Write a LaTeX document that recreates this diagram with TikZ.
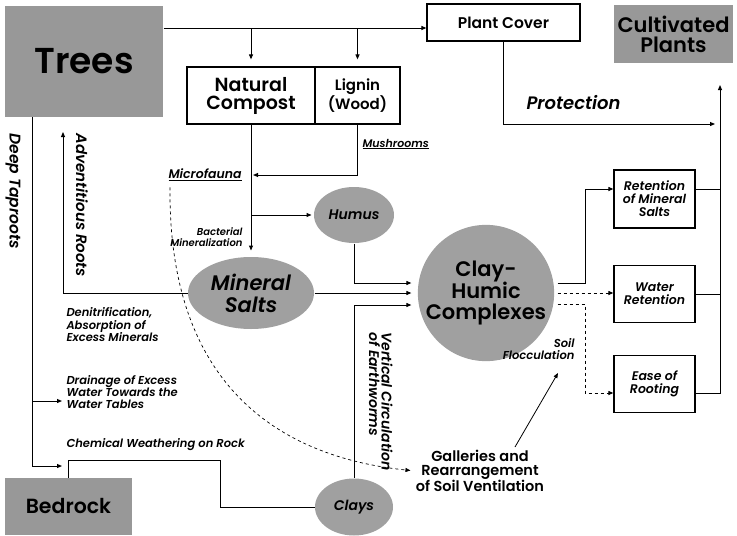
\documentclass[tikz,border=0pt]{standalone}
\usepackage{fontspec}
\setmainfont{Poppins}[BoldFont={Poppins SemiBold},BoldItalicFont={Poppins SemiBold Italic}]
\usetikzlibrary{arrows.meta,calc,shapes.geometric}
\definecolor{boxgray}{RGB}{152,152,152}
\definecolor{ellgray}{RGB}{160,160,160}
\newcommand{\fs}[1]{\fontsize{#1}{#1}\selectfont}
\begin{document}
\begin{tikzpicture}[x=1pt,y=-1pt,line width=1pt,
  arr/.style={-{Triangle[length=5pt,width=4pt]}},
  graybox/.style={fill=boxgray,draw=none,align=center,inner sep=0},
  wbox/.style={draw,line width=1.2pt,fill=white,align=center,inner sep=0},
  gell/.style={ellipse,fill=ellgray,align=center,inner sep=0},
  lbl/.style={align=left,inner sep=0,font=\bfseries\itshape\fontsize{10.5}{12}\selectfont}]
\useasboundingbox (0,0) rectangle (737,536);
% nodes
\node[graybox,minimum width=158,minimum height=111,font=\bfseries\fs{36}] (trees) at (84,61) {Trees};
\node[wbox,minimum width=153,minimum height=37,font=\bfseries\fs{15.5}] (plant) at (503.5,22.5) {Plant Cover};
\node[graybox,minimum width=119,minimum height=58,font=\bfseries\fontsize{21}{20}\selectfont] (cult) at (673.5,34) {Cultivated\\Plants};
\node[wbox,minimum width=128,minimum height=57,font=\bfseries\fontsize{19}{18}\selectfont] (comp) at (251,95.5) {Natural\\Compost};
\node[wbox,minimum width=85,minimum height=57,font=\bfseries\fontsize{15}{15}\selectfont] (lig) at (357.5,95.5) {Lignin\\(Wood)};
\node[gell,minimum width=126,minimum height=72,font=\bfseries\itshape\fontsize{21}{22}\selectfont] (ms) at (251,293) {Mineral\\Salts};
\node[gell,minimum width=80,minimum height=56,font=\bfseries\itshape\fs{14}] (hum) at (354,215) {Humus};
\node[circle,fill=ellgray,minimum size=134,inner sep=0,align=center,font=\bfseries\fontsize{21}{21}\selectfont] (chc) at (486,293) {Clay-\\Humic\\Complexes};
\node[gell,minimum width=78,minimum height=57,font=\bfseries\itshape\fs{14}] (clays) at (354,507) {Clays};
\node[graybox,minimum width=127,minimum height=57,font=\bfseries\fs{20.5}] (bed) at (68.5,506.5) {Bedrock};
\node[wbox,minimum width=81,minimum height=58,font=\bfseries\itshape\fontsize{12.5}{13}\selectfont] (ret) at (654.5,199) {Retention\\of Mineral\\Salts};
\node[wbox,minimum width=81,minimum height=57,font=\bfseries\itshape\fontsize{12.5}{13}\selectfont] (wat) at (654.5,294) {Water\\Retention};
\node[wbox,minimum width=81,minimum height=57,font=\bfseries\itshape\fontsize{12.5}{13}\selectfont] (ease) at (654.5,384) {Ease of\\Rooting};
% labels
\node[lbl,anchor=west,font=\bfseries\itshape\fs{18}] (prot) at (526,103) {Protection};
\node[lbl,anchor=west,font=\bfseries\itshape\fs{11}] (mush) at (362,144) {\underline{Mushrooms}};
\node[lbl,anchor=west,font=\bfseries\itshape\fs{12.5}] (micro) at (168,175) {\underline{Microfauna}};
\node[lbl,anchor=east,align=right,font=\bfseries\itshape\fontsize{10}{11}\selectfont] (bact) at (243,237) {Bacterial\\Mineralization};
\node[lbl,anchor=west,font=\bfseries\itshape\fontsize{11.5}{12.5}\selectfont] (deni) at (66,325) {Denitrification,\\Absorption of\\Excess Minerals};
\node[lbl,anchor=west,font=\bfseries\itshape\fontsize{11.5}{12}\selectfont] (drain) at (66,392) {Drainage of Excess\\Water Towards the\\Water Tables};
\node[lbl,anchor=west,font=\bfseries\itshape\fs{11.5}] (chem) at (66,445) {Chemical Weathering on Rock};
\node[lbl,anchor=east,align=right,font=\bfseries\itshape\fontsize{11.5}{12}\selectfont] (floc) at (575,349) {Soil\\Flocculation};
\node[align=center,inner sep=0,font=\bfseries\fontsize{14.5}{13.5}\selectfont] (gal) at (480,471) {Galleries and\\Rearrangement\\of Soil Ventilation};
\node[lbl,rotate=-90,anchor=west,font=\bfseries\itshape\fs{15.5}] (deep) at (13,133) {Deep Taproots};
\node[lbl,rotate=-90,anchor=west,font=\bfseries\itshape\fs{15}] (adv) at (82,133) {Adventitious Roots};
\node[lbl,rotate=-90,anchor=north west,font=\bfseries\itshape\fontsize{14}{12.5}\selectfont] (vert) at (393,332) {Vertical Circulation\\of Earthworms};
\coordinate (flocpt) at (558,373);
\coordinate (galpt) at (515,447);
% connectors
\draw[arr] (trees.east |- 0,28) -- (plant.west |- 0,28);
\draw[arr,shorten >=7pt] (comp.north |- 0,28) -- (comp.north);
\draw[arr,shorten >=7pt] (lig.north |- 0,28) -- (lig.north);
\draw[arr,shorten >=2pt] (lig.south) |- (comp.south |- 0,175);
\draw[arr,shorten >=6pt] (comp.south) -- (ms.north);
\draw[arr,shorten >=2pt] (comp.south |- hum.west) -- (hum.west);
\draw[arr,shorten >=6pt] (hum.south) |- (chc.west |- 0,283);
\draw[arr,shorten >=6pt] (ms.east) -- (chc.west |- ms.east);
\draw[arr,shorten >=6pt] (clays.north) |- (chc.west |- 0,305);
\draw[arr,shorten >=15pt] (ms.west) -| (trees.south -| 63,0);
\draw (trees.south -| 32,0) -- (32,466);
\draw[arr] (32,466) -- (62,466);
\draw[arr] (32,401) -- (62,401);
\draw (bed.north) |- (220,460) |- (clays.west);
\draw[arr] (plant.south) |- (715,124);
\draw[arr] (ease.east |- 0,393) -| (720,85);
\draw (ret.east |- 0,189) -- (720,189);
\draw (wat.east) -- (720,294);
\draw[arr,shorten <=3pt] (chc.east |- 0,283) -| (585,189) -- (ret.west |- 0,189);
\draw[arr,dashed,shorten <=3pt] (chc.east) -- (wat.west |- chc.east);
\draw[arr,dashed,shorten <=3pt] (chc.east |- 0,304) -| (585,393) -- (ease.west |- 0,393);
\draw[arr,line width=0.8pt] (galpt) -- (flocpt);
\draw[arr,dashed,line width=0.7pt,shorten >=5pt] ($(micro.south west)+(2,6)$) .. controls (168,395) and (290,458) .. (gal.west);
\end{tikzpicture}
\end{document}
